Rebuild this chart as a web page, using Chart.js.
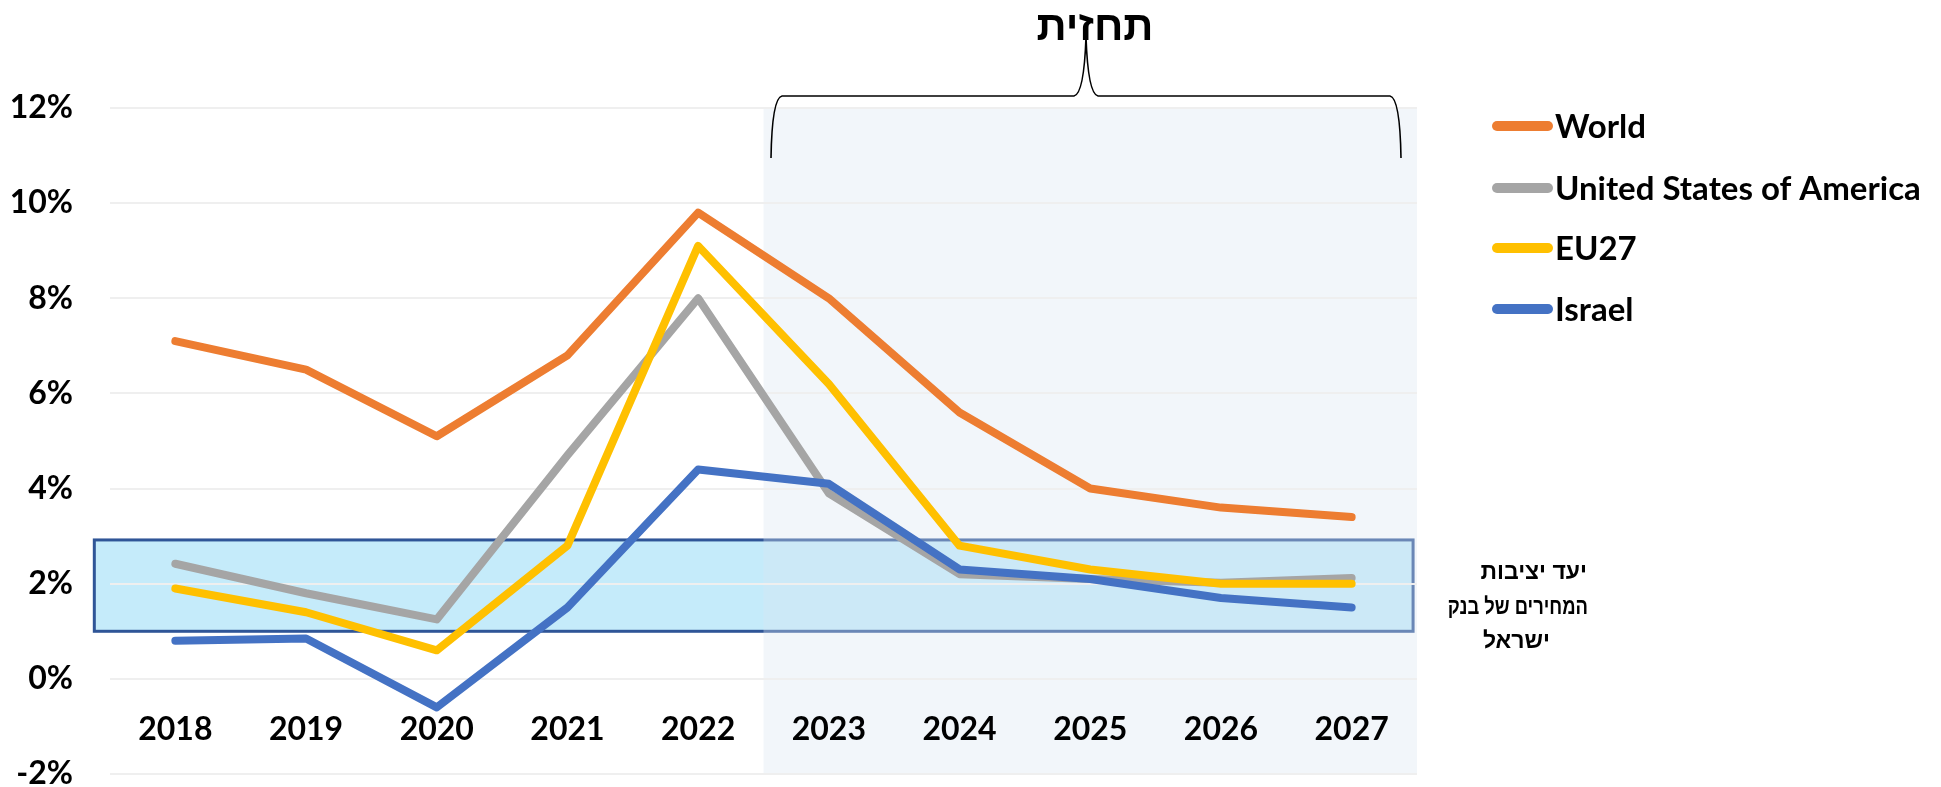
<!DOCTYPE html>
<html>
<head>
<meta charset="utf-8">
<script src="https://cdn.jsdelivr.net/npm/chart.js@4/dist/chart.umd.min.js"></script>
<style>
  html, body { margin: 0; padding: 0; background: #fff; }
  #wrap { width: 1941px; height: 787px; }
</style>
</head>
<body>
<div id="wrap"><canvas id="chart" width="1941" height="787"></canvas></div>
<script>
// Inflation data
const years = ['2018', '2019', '2020', '2021', '2022', '2023', '2024', '2025', '2026', '2027'];
const world = [7.1, 6.5, 5.1, 6.8, 9.8, 8.0, 5.6, 4.0, 3.6, 3.4];
const usa = [2.42, 1.8, 1.25, 4.7, 8.0, 3.9, 2.2, 2.1, 2.02, 2.12];
const eu27 = [1.9, 1.4, 0.6, 2.8, 9.1, 6.2, 2.8, 2.3, 2.0, 2.0];
const israel = [0.8, 0.85, -0.6, 1.5, 4.4, 4.1, 2.3, 2.1, 1.7, 1.5];
const seriesNames = ['World', 'United States of America', 'EU27', 'Israel'];
const seriesColors = ['#ED7D31', '#A5A5A5', '#FFC000', '#4472C4'];
const yTicks = [-2, 0, 2, 4, 6, 8, 10, 12];

// Bank of Israel price stability target and forecast start
const targetLow = 1;
const targetHigh = 2.92;
const forecastFrom = 4.5; // between 2022 and 2023
const forecastTitle = 'תחזית';
const targetText = ['יעד יציבות', 'המחירים של בנק', 'ישראל'];

const latin = 'Lato, "Liberation Sans", sans-serif';
const hebrew = '"Liberation Sans", "DejaVu Sans", sans-serif';

// Target band + forecast shading, drawn under the grid
const backgroundPlugin = {
  id: 'background',
  beforeDraw(chart) {
    const { ctx, chartArea, scales: { x, y } } = chart;
    ctx.save();
    // target band
    const bx1 = x.getPixelForValue(-0.62);
    const bx2 = x.getPixelForValue(9.47);
    const by1 = y.getPixelForValue(targetHigh);
    const by2 = y.getPixelForValue(targetLow);
    ctx.fillStyle = '#C5EBFA';
    ctx.fillRect(bx1, by1, bx2 - bx1, by2 - by1);
    ctx.strokeStyle = '#2F5597';
    ctx.lineWidth = 3;
    ctx.strokeRect(bx1, by1, bx2 - bx1, by2 - by1);
    // forecast shading
    const sx = x.getPixelForValue(forecastFrom);
    ctx.fillStyle = 'rgba(218, 229, 241, 0.35)';
    ctx.fillRect(sx, chartArea.top, chartArea.right - sx, chartArea.bottom - chartArea.top);
    ctx.restore();
  }
};

// Brace, title, legend and side note
const overlayPlugin = {
  id: 'overlay',
  afterDraw(chart) {
    const { ctx } = chart;
    ctx.save();

    // brace above the forecast area
    const l = 772, r = 1400, tip = 1086, top = 96, low = 158, peak = 37;
    ctx.strokeStyle = '#000';
    ctx.lineWidth = 1.6;
    ctx.beginPath();
    ctx.moveTo(l - 1, low);
    ctx.quadraticCurveTo(l, top + 2, l + 10, top);
    ctx.lineTo(tip - 12, top);
    ctx.quadraticCurveTo(tip - 2, top - 2, tip, peak);
    ctx.quadraticCurveTo(tip + 2, top - 2, tip + 12, top);
    ctx.lineTo(r - 10, top);
    ctx.quadraticCurveTo(r, top + 2, r + 1, low);
    ctx.stroke();

    ctx.fillStyle = '#000';
    ctx.font = 'bold 42px ' + hebrew;
    ctx.textAlign = 'center';
    ctx.textBaseline = 'middle';
    ctx.fillText(forecastTitle, 1095, 28);

    // legend
    const legendY = [126, 188, 248, 309];
    seriesNames.forEach((name, i) => {
      ctx.strokeStyle = seriesColors[i];
      ctx.lineWidth = 10;
      ctx.lineCap = 'round';
      ctx.beginPath();
      ctx.moveTo(1497, legendY[i]);
      ctx.lineTo(1548, legendY[i]);
      ctx.stroke();
      ctx.fillStyle = '#000';
      ctx.font = 'bold 33px ' + latin;
      ctx.textAlign = 'left';
      ctx.textBaseline = 'middle';
      ctx.fillText(name, 1555, legendY[i] + 1);
    });

    // side note about the target band
    ctx.font = 'bold 23px ' + hebrew;
    ctx.textBaseline = 'middle';
    ctx.textAlign = 'right';
    ctx.fillText(targetText[0], 1587, 573);
    ctx.save();
    ctx.translate(1588, 608);
    ctx.scale(0.8, 1);
    ctx.fillText(targetText[1], 0, 0);
    ctx.restore();
    ctx.fillText(targetText[2], 1550, 642);

    ctx.restore();
  }
};

const lineStyle = {
  borderWidth: 8,
  borderCapStyle: 'round',
  borderJoinStyle: 'round',
  pointRadius: 0,
  tension: 0,
  fill: false
};

new Chart(document.getElementById('chart').getContext('2d'), {
  type: 'line',
  data: {
    labels: years,
    datasets: [
      { label: seriesNames[0], data: world, borderColor: seriesColors[0], order: 3, ...lineStyle },
      { label: seriesNames[1], data: usa, borderColor: seriesColors[1], order: 2, ...lineStyle },
      { label: seriesNames[2], data: eu27, borderColor: seriesColors[2], order: 1, ...lineStyle },
      { label: seriesNames[3], data: israel, borderColor: seriesColors[3], order: 0, ...lineStyle }
    ]
  },
  options: {
    responsive: false,
    animation: false,
    layout: { padding: { top: 108, right: 524, bottom: 13, left: 0 } },
    plugins: {
      legend: { display: false },
      tooltip: { enabled: false }
    },
    scales: {
      x: {
        position: { y: 0 },
        offset: true,
        grid: { display: false, drawTicks: false },
        border: { display: false },
        ticks: {
          color: '#000',
          font: { family: latin, size: 32, weight: 'bold' },
          padding: 32,
          maxRotation: 0
        }
      },
      y: {
        min: -2,
        max: 12,
        afterBuildTicks(scale) {
          scale.ticks = yTicks.map(v => ({ value: v }));
        },
        afterFit(scale) {
          scale.width = 110;
          scale.paddingTop = 0;
          scale.paddingBottom = 0;
        },
        grid: { color: '#EFEFEF', lineWidth: 2, drawTicks: false },
        border: { display: false },
        ticks: {
          color: '#000',
          font: { family: latin, size: 32, weight: 'bold' },
          padding: 37,
          callback: v => v + '%'
        }
      }
    }
  },
  plugins: [backgroundPlugin, overlayPlugin]
});
</script>
</body>
</html>
